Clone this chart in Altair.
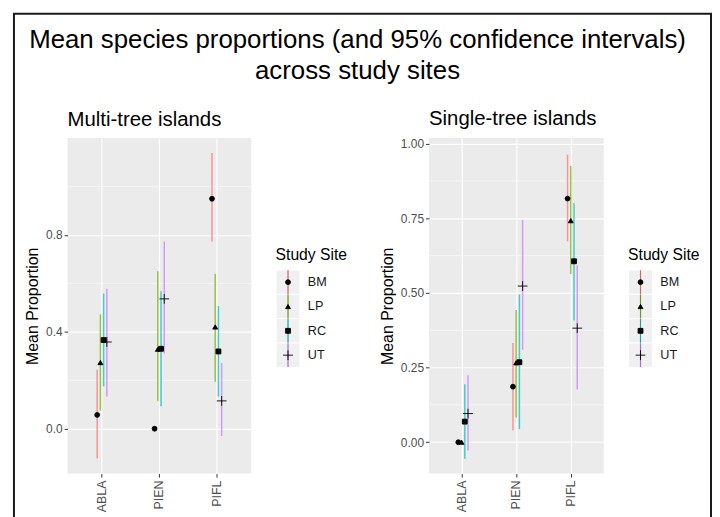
import altair as alt
import pandas as pd

FONT = "Liberation Sans"

species = ["ABLA", "PIEN", "PIFL"]
sites = ["BM", "LP", "RC", "UT"]
site_colors = ["#F8766D", "#7CAE00", "#00BFC4", "#C77CFF"]
site_shapes = ["circle", "triangle-up", "square", "M-2,0H2M0,-2V2"]

# Multi-tree islands (rows: species, cols: sites)
multi_mean = [[0.057, 0.273, 0.366, 0.358],
              [0.000, 0.328, 0.330, 0.536],
              [0.949, 0.420, 0.319, 0.115]]
multi_lo = [[-0.123, 0.075, 0.175, 0.133],
            [0.000, 0.116, 0.093, 0.310],
            [0.773, 0.194, 0.133, -0.030]]
multi_hi = [[0.243, 0.472, 0.558, 0.578],
            [0.000, 0.650, 0.567, 0.773],
            [1.138, 0.640, 0.506, 0.271]]

# Single-tree islands
single_mean = [[0.000, 0.000, 0.069, 0.096],
               [0.186, 0.266, 0.268, 0.523],
               [0.816, 0.742, 0.606, 0.382]]
single_lo = [[0.000, 0.000, -0.055, -0.028],
             [0.039, 0.083, 0.044, 0.310],
             [0.673, 0.563, 0.408, 0.177]]
single_hi = [[0.000, 0.000, 0.194, 0.224],
             [0.332, 0.443, 0.495, 0.744],
             [0.963, 0.925, 0.800, 0.592]]

multi_ticks = [0.0, 0.4, 0.8]
multi_minor = [0.2, 0.6, 1.0]
single_ticks = [0.0, 0.25, 0.5, 0.75, 1.0]
single_minor = [0.125, 0.375, 0.625, 0.875]


def table(mean, lo, hi):
    rows = []
    for i, sp in enumerate(species):
        for j, st in enumerate(sites):
            rows.append({"species": sp, "site": st, "mean": mean[i][j],
                         "lo": lo[i][j], "hi": hi[i][j]})
    return pd.DataFrame(rows)


multi_df = table(multi_mean, multi_lo, multi_hi)
single_df = table(single_mean, single_lo, single_hi)
legend_df = pd.DataFrame({"site": sites})

PH = 338
PT_SIZE = 24


def panel(df, width, domain, ticks, fmt, minor, title, off_range):
    xsc = alt.Scale(domain=species, paddingInner=0, paddingOuter=0.1)
    xax = alt.Axis(title=None, labelAngle=270, domain=False, grid=True,
                   gridColor="white", gridWidth=1.1, tickColor="#333333",
                   tickSize=3.5, labelColor="#4D4D4D", labelFontSize=12.5,
                   labelPadding=3, labelFont=FONT)
    ysc = alt.Scale(domain=domain, nice=False, zero=False)
    yax = alt.Axis(values=ticks, format=fmt, grid=True, gridColor="white",
                   gridWidth=1.1, domain=False, tickColor="#333333",
                   tickSize=3.5, labelColor="#4D4D4D", labelFontSize=12,
                   labelPadding=2, labelFont=FONT, title="Mean Proportion",
                   titleFontSize=16, titleFontWeight="normal",
                   titleColor="black", titlePadding=5, titleFont=FONT)
    xenc = alt.X("species:N", scale=xsc, axis=xax, sort=species)
    xoff = alt.XOffset("site:N", scale=alt.Scale(type="point", domain=sites,
                                                 range=off_range))
    grid = alt.Chart(pd.DataFrame({"v": minor})).mark_rule(
        color="white", strokeWidth=0.55).encode(
        y=alt.Y("v:Q", scale=ysc, axis=yax))
    bars = alt.Chart(df).mark_rule(strokeWidth=1.5, opacity=0.72).encode(
        x=xenc, xOffset=xoff,
        y=alt.Y("lo:Q", scale=ysc, axis=yax), y2="hi:Q",
        color=alt.Color("site:N", scale=alt.Scale(domain=sites,
                                                  range=site_colors),
                        legend=None))
    pts = alt.Chart(df).mark_point(fill="black", stroke="black",
                                   strokeWidth=0.9, opacity=1, size=PT_SIZE,
                                   fillOpacity=1).encode(
        x=xenc, xOffset=xoff,
        y=alt.Y("mean:Q", scale=ysc, axis=yax),
        shape=alt.Shape("site:N", scale=alt.Scale(domain=sites,
                                                  range=site_shapes),
                        legend=None))
    return alt.layer(grid, bars, pts).properties(
        width=width, height=PH,
        title=alt.TitleParams(title, anchor="start", frame="group",
                              fontSize=20.5, fontWeight="normal",
                              color="black", font=FONT, offset=8),
        view=alt.ViewBackground(fill="#EBEBEB", stroke=None))


def legend_panel(width, frame=False):
    ysc = alt.Scale(domain=sites, paddingInner=0, paddingOuter=0,
                    range=[133, 231])
    yax = alt.Axis(orient="left", domain=False, ticks=False, grid=False,
                   labels=False, title="Study Site", titleAngle=0,
                   titleAlign="left", titleBaseline="middle", titleX=-1,
                   titleY=117, titleFontSize=15.8, titleFontWeight="normal",
                   titleColor="black", titleFont=FONT)
    yenc = alt.Y("site:N", scale=ysc, axis=yax, sort=sites)
    base = alt.Chart(legend_df)
    keys = base.mark_rect(fill="#F0F0F0", stroke="white",
                          strokeWidth=1).encode(
        y=yenc, x=alt.value(0), x2=alt.value(24))
    lines = base.mark_tick(orient="vertical", size=24, thickness=1.2,
                           opacity=0.9).encode(
        y=yenc, x=alt.value(12),
        color=alt.Color("site:N", scale=alt.Scale(domain=sites,
                                                  range=site_colors),
                        legend=None))
    dark = base.mark_tick(orient="vertical", size=24, thickness=0.5,
                          color="#444444", opacity=0.6).encode(
        y=yenc, x=alt.value(12))
    pts = base.mark_point(fill="black", stroke="black", strokeWidth=0.9,
                          opacity=1, size=PT_SIZE, fillOpacity=1).encode(
        y=yenc, x=alt.value(12),
        shape=alt.Shape("site:N", scale=alt.Scale(domain=sites,
                                                  range=site_shapes),
                        legend=None))
    labels = base.mark_text(align="left", baseline="middle", fontSize=12.7,
                            font=FONT, color="#1A1A1A").encode(
        y=yenc, x=alt.value(32), text="site:N")
    layers = [keys, lines, dark, pts, labels]
    if frame:
        fr = alt.Chart(pd.DataFrame({"f": [0]})).mark_rect(
            fillOpacity=0, stroke="#1A1A1A", strokeWidth=2, clip=False
        ).encode(x=alt.value(-264), x2=alt.value(438),
                 y=alt.value(-125), y2=alt.value(400))
        layers.append(fr)
    return alt.layer(*layers).properties(width=width, height=PH)


left = panel(multi_df, 185, [-0.185, 1.2], multi_ticks, ".1f", multi_minor,
             "Multi-tree islands", [22.4, 35.4])
right = panel(single_df, 176, [-0.105, 1.019], single_ticks, ".2f",
              single_minor, "Single-tree islands", [21.3, 33.7])

chart = alt.hconcat(left, legend_panel(129, frame=True), right,
                    legend_panel(60), spacing=25, bounds="flush").properties(
    title=alt.TitleParams(
        ["Mean species proportions (and 95% confidence intervals)",
         "across study sites"],
        anchor="middle", fontSize=26, fontWeight="normal", color="black",
        font=FONT, lineHeight=31, offset=-71.5, dx=-5),
    padding={"left": 5, "top": 3, "right": 0, "bottom": 0},
    background="white",
).configure_view(stroke=None)

chart.save("out.html", embed_options={"renderer": "svg", "actions": False})
